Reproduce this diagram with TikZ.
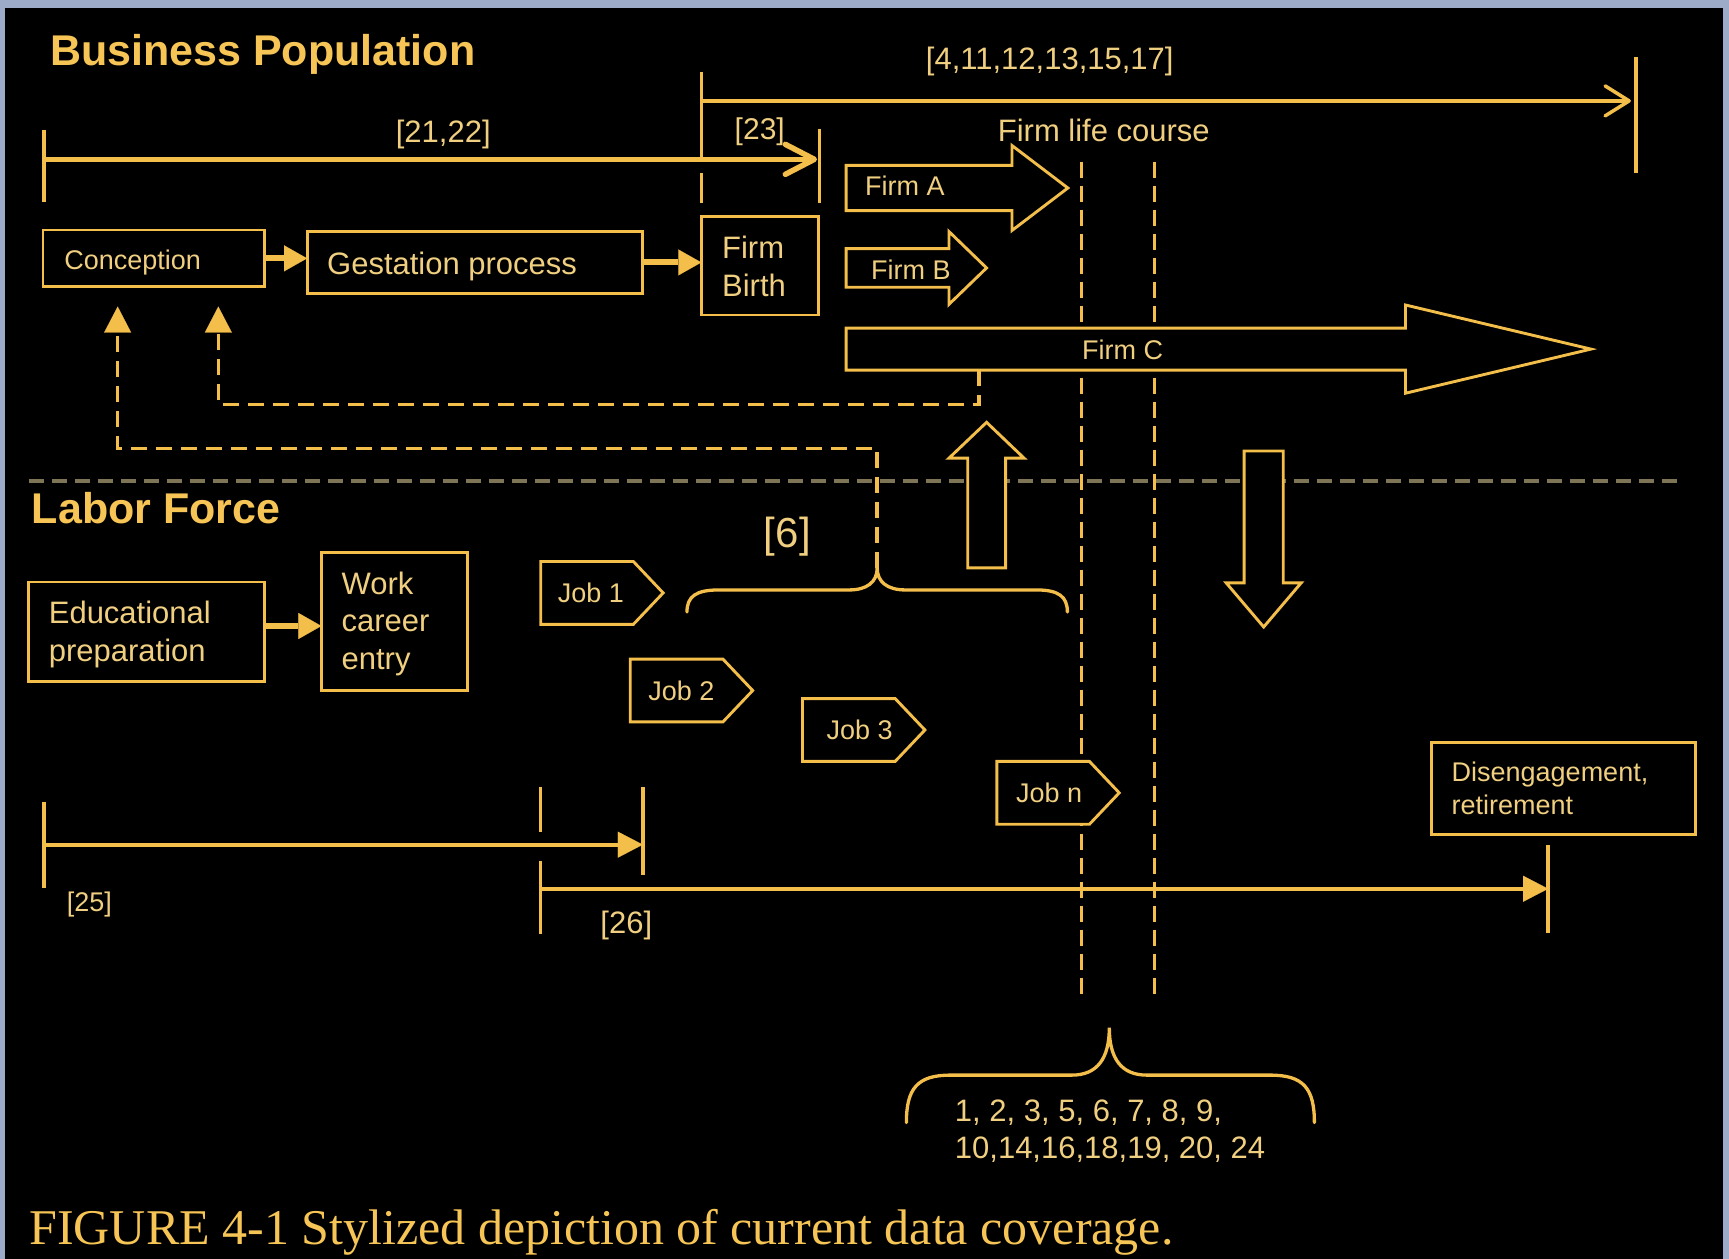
\documentclass[tikz,border=0pt]{standalone}
\usepackage{fontspec}
\setmainfont{Liberation Sans}
\newfontfamily\capserif{Liberation Serif}
\usetikzlibrary{arrows.meta}
\definecolor{gold}{RGB}{243,190,74}
\definecolor{txt}{RGB}{240,207,128}
\definecolor{headc}{RGB}{246,197,86}
\definecolor{sepc}{RGB}{126,116,86}
\definecolor{framec}{RGB}{157,171,201}
\newcommand\pxu{1.10268pt}
\newcommand\fs[1]{\fontsize{#1}{#1}\selectfont}
\newcommand\jobtag[5]{%
  \draw[boxln] (#2,#3-28.5) -- (#2+84,#3-28.5) -- (#2+111,#3) -- (#2+84,#3+28.5) -- (#2,#3+28.5) -- cycle;
  \node[s27, anchor=west] (#1) at (#4,#3) {#5};}
\begin{document}
\begin{tikzpicture}[x=1.10268pt,y=-1.10268pt,
  boxln/.style={draw=gold, line width=2.9pt, fill=black, line join=miter},
  bx/.style n args={4}{boxln, shape=rectangle, inner sep=0pt, outer sep=0pt, anchor=north west,
     minimum width={(#3-#1)*\pxu}, minimum height={(#4-#2)*\pxu}, at={(#1,#2)}},
  lb/.style={text=txt, inner sep=0pt, outer sep=0pt},
  s27/.style={lb, font=\fs{27}},
  s30/.style={lb, font=\fs{30}},
  s31/.style={lb, font=\fs{31}},
  s42/.style={lb, font=\fs{42}},
  hd/.style={inner sep=0pt, text=headc, font=\bfseries\fs{43}},
  tick/.style={draw=gold, line width=3.5pt},
  conn/.style={draw=gold, line width=6pt, -{Triangle[length=23pt,width=26pt,line width=0.1pt]}},
  rng/.style={draw=gold, line width=4pt, -{Triangle[length=25pt,width=26pt,line width=0.1pt]}},
  fb/.style={draw=gold, line width=3.5pt, dash pattern=on 16pt off 9pt,
     -{Triangle[length=26pt,width=27pt,line width=0.1pt]}, shorten >=19.85pt},
  vdash/.style={draw=gold, line width=3pt, dash pattern=on 16pt off 8pt},
  bracep/.style={draw=gold, line width=3.3pt, line cap=round},
  sepl/.style={draw=sepc, line width=3.5pt, dash pattern=on 15pt off 8pt},
  blk/.style={boxln}
]
\useasboundingbox (0,0) rectangle (1568,1141.7);
\fill[framec] (0,0) rectangle (1568,1141.7);
\fill[black] (4.5,7.3) rectangle (1562.6,1141.7);

% separator
\coordinate (sepL) at (26,436);
\coordinate (sepR) at (1526,436);
\draw[sepl] (sepL) -- (sepR);

% vertical dashed lines
\coordinate (v1t) at (981,146.6); \coordinate (v1b) at (981,902);
\coordinate (v2t) at (1047,146.6); \coordinate (v2b) at (1047,902);
\draw[vdash] (v1t) -- (v1b);
\draw[vdash] (v2t) -- (v2b);

% boxes
\node[bx={39}{208.6}{239.5}{260}] (conc) {};
\node[bx={278.5}{210}{583}{266}] (gest) {};
\node[bx={636}{196.5}{742}{285.7}] (birth) {};
\node[bx={26}{527.8}{239.5}{618}] (edu) {};
\node[bx={291.5}{501.2}{424.3}{626.3}] (work) {};
\node[bx={1297.8}{673.5}{1537.8}{756.6}] (dis) {};

% connectors between boxes
\draw[conn] (conc.east) -- (conc.east -| gest.west);
\draw[conn] (gest.east) -- (gest.east -| birth.west);
\draw[conn] (edu.east |- 0,567.7) -- (work.west |- 0,567.7);

% feedback dashed paths
\coordinate (fcbot) at (888,335.6);
\coordinate (b6tip) at (795.5,515);
\draw[fb] (fcbot) -- (888,367) -| (198,0 |- conc.south);
\draw[fb] (b6tip) -- (795.5,406.6) -| (106.7,0 |- conc.south);

% ranges
\coordinate (ra1) at (636,91.5); \coordinate (ra2) at (1479,91.5);
\draw[draw=gold, line width=3.5pt, -{Straight Barb[length=24pt,width=30pt,line width=3.5pt,round]}] (ra1) -- (ra2);
\coordinate (rb1) at (40,144.5); \coordinate (rb2) at (741,144.5);
\draw[draw=gold, line width=5pt, -{Straight Barb[length=29pt,width=30pt,line width=5.5pt,round]}] (rb1) -- (rb2);
\coordinate (rc1) at (40,766); \coordinate (rc2) at (583,766);
\draw[rng] (rc1) -- (rc2);
\coordinate (rd1) at (490,806); \coordinate (rd2) at (1404,806);
\draw[rng] (rd1) -- (rd2);

% ticks
\draw[tick] (40,118) -- (40,183);
\draw[tick] (636,65) -- (636,144.5);
\draw[tick] (636,157) -- (636,184);
\draw[tick] (743,117) -- (743,184);
\draw[tick] (1483.5,51.5) -- (1483.5,157);
\draw[tick] (40,727) -- (40,805);
\draw[tick] (583,713.7) -- (583,793.5);
\draw[tick] (490,713.5) -- (490,754.5);
\draw[tick] (490,781) -- (490,847);
\draw[tick] (1404,766) -- (1404,846);

% firm block arrows
\draw[blk] (767.3,150) -- (917.8,150) -- (917.8,132) -- (968.4,170.5) -- (917.8,209) -- (917.8,191) -- (767.3,191) -- cycle;
\draw[blk] (767.3,225.5) -- (860.6,225.5) -- (860.6,210) -- (894.7,243) -- (860.6,276) -- (860.6,260.5) -- (767.3,260.5) -- cycle;
\draw[blk] (767.3,297.6) -- (1274.6,297.6) -- (1274.6,276.6) -- (1442.8,316.6) -- (1274.6,356.6) -- (1274.6,335.6) -- (767.3,335.6) -- cycle;

% up / down block arrows
\draw[blk] (877.6,515) -- (877.6,415.5) -- (860.6,415.5) -- (894.7,383) -- (928.7,415.5) -- (912,415.5) -- (912,515) -- cycle;
\draw[blk] (1128.3,409) -- (1163.7,409) -- (1163.7,528.6) -- (1180,528.6) -- (1146,568.6) -- (1112,528.6) -- (1128.3,528.6) -- cycle;

% job tags
\jobtag{job1}{490.4}{537.7}{506}{Job 1}
\jobtag{job2}{571.6}{626.2}{588}{Job 2}
\jobtag{job3}{727.8}{662}{749.7}{Job 3}
\jobtag{jobn}{904}{719}{921.4}{Job n}

% braces
\draw[bracep] (623,555) .. controls (623,541) and (631,535) .. (652,535) -- (770,535) .. controls (786,535) and (795.5,528) .. (795.5,515) .. controls (795.5,528) and (805,535) .. (821,535) -- (940,535) .. controls (960,535) and (968,541) .. (968,555);
\draw[bracep] (822,1018) .. controls (822,987) and (832,975) .. (862,975) -- (972,975) .. controls (995,975) and (1006,960) .. (1006,932) .. controls (1006,960) and (1017,975) .. (1040,975) -- (1152,975) .. controls (1182,975) and (1192,987) .. (1192,1018);

% texts
\node[hd, anchor=base west] (bp) at (45.3,59) {Business Population};
\node[hd, anchor=base west] (lf) at (28.7,475) {Labor Force};
\node[s31] (r4) at (952,56) {[4,11,12,13,15,17]};
\node[s31] (r21) at (402,122) {[21,22]};
\node[s30] (r23) at (689,119.5) {[23]};
\node[s31] (flc) at (1001,118) {Firm life course};
\node[s27, anchor=base west] (conct) at (58.3,244) {Conception};
\node[s31, anchor=base west] (gestt) at (296.7,248.5) {Gestation process};
\node[s31, anchor=base west] (birth1) at (654.9,234.3) {Firm};
\node[s31, anchor=base west] (birth2) at (654.9,269) {Birth};
\node[s27, anchor=west] (firmA) at (784.6,168) {Firm A};
\node[s27, anchor=west] (firmB) at (790,245) {Firm B};
\node[s27] (firmC) at (1018,317.5) {Firm C};
\node[s42] (r6) at (714,487) {[6]};
\node[s31, anchor=base west] (edu1) at (44.3,565.3) {Educational};
\node[s31, anchor=base west] (edu2) at (44.3,599.5) {preparation};
\node[s31, anchor=base west] (work1) at (309.8,538.7) {Work};
\node[s31, anchor=base west] (work2) at (309.8,573) {career};
\node[s31, anchor=base west] (work3) at (309.8,607.5) {entry};
\node[s27, anchor=base west] (dis1) at (1316.5,708.5) {Disengagement,};
\node[s27, anchor=base west] (dis2) at (1316.5,739) {retirement};
\node[s27] (r25) at (81,820) {[25]};
\node[s31] (r26) at (568,839) {[26]};
\node[s31, anchor=base west] (nums1) at (866,1017) {1, 2, 3, 5, 6, 7, 8, 9,};
\node[s31, anchor=base west] (nums2) at (866,1051) {10,14,16,18,19, 20, 24};
\node[inner sep=0pt, text=headc, font=\capserif\fs{50}, anchor=base west] (cap) at (26.5,1129) {FIGURE 4-1 Stylized depiction of current data coverage.};
\end{tikzpicture}
\end{document}
